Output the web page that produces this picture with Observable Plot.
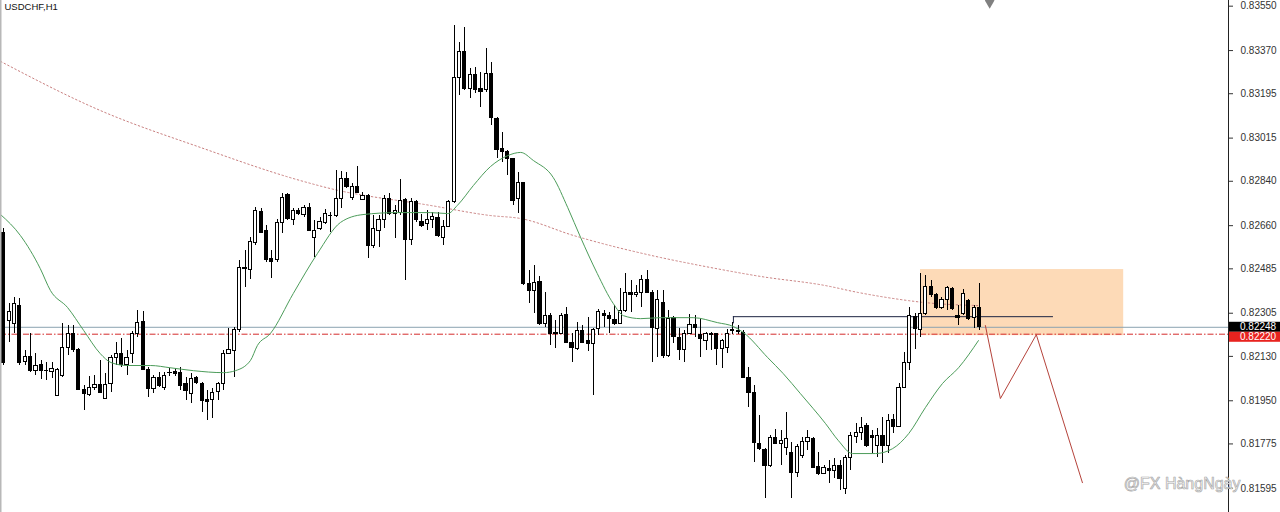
<!DOCTYPE html>
<html>
<head>
<meta charset="utf-8">
<script src="https://cdn.jsdelivr.net/npm/d3@7"></script>
<script src="https://cdn.jsdelivr.net/npm/@observablehq/plot@0.6"></script>
<style>
html,body{margin:0;padding:0;background:#fff;overflow:hidden;}
#chart svg{display:block;}
</style>
</head>
<body>
<div id="chart"></div>
<script>
const symbolTitle = "USDCHF,H1";
const watermark = "@FX HàngNgày";

const opens = [
0.82632,0.82275,0.82263,0.82336,0.82109,0.82129,0.82072,0.82097,0.82072,0.82068,
0.81971,0.82052,0.82166,0.82222,0.82157,0.81995,0.81975,0.82003,0.82016,0.81959,
0.82020,0.82125,0.82141,0.82097,0.82141,0.82222,0.82271,0.82076,0.81999,0.82044,
0.82003,0.82064,0.82068,0.82064,0.82020,0.81979,0.82044,0.82020,0.81955,0.81955,
0.81987,0.82020,0.82141,0.82153,0.82235,0.82490,0.82482,0.82591,0.82717,0.82640,
0.82523,0.82519,0.82669,0.82786,0.82685,0.82721,0.82705,0.82733,0.82612,0.82648,
0.82669,0.82701,0.82701,0.82770,0.82851,0.82774,0.82815,0.82766,0.82782,0.82579,
0.82640,0.82681,0.82770,0.82709,0.82713,0.82766,0.82600,0.82754,0.82673,0.82665,
0.82681,0.82693,0.82612,0.82656,0.82754,0.83257,0.83366,0.83216,0.83269,0.83216,
0.83212,0.83277,0.83094,0.82969,0.82957,0.82932,0.82770,0.82835,0.82425,0.82397,
0.82433,0.82263,0.82295,0.82226,0.82222,0.82299,0.82186,0.82161,0.82231,0.82194,
0.82182,0.82243,0.82303,0.82295,0.82279,0.82263,0.82316,0.82385,0.82377,0.82385,
0.82441,0.82389,0.82243,0.82348,0.82133,0.82287,0.82206,0.82157,0.82222,0.82259,
0.82218,0.82194,0.82222,0.82222,0.82161,0.82166,0.82235,0.82231,0.82226,0.82044,
0.81983,0.81776,0.81752,0.81687,0.81801,0.81776,0.81760,0.81740,0.81659,0.81728,
0.81784,0.81797,0.81683,0.81655,0.81675,0.81667,0.81687,0.81594,0.81719,0.81805,
0.81821,0.81849,0.81809,0.81768,0.81809,0.81768,0.81874,0.81845,0.82003,0.82105,
0.82291,0.82235,0.82303,0.82413,0.82377,0.82328,0.82360,0.82405,0.82295,0.82303,
0.82356,0.82287,0.82328];

const highs = [
0.82648,0.82344,0.82368,0.82364,0.82153,0.82222,0.82141,0.82113,0.82105,0.82105,
0.82080,0.82263,0.82255,0.82255,0.82161,0.82011,0.82048,0.82052,0.82113,0.82060,
0.82133,0.82186,0.82202,0.82153,0.82231,0.82316,0.82312,0.82084,0.82052,0.82064,
0.82064,0.82080,0.82080,0.82084,0.82044,0.82060,0.82048,0.82024,0.81991,0.81999,
0.82024,0.82153,0.82243,0.82247,0.82519,0.82559,0.82612,0.82733,0.82729,0.82660,
0.82559,0.82685,0.82790,0.82790,0.82729,0.82729,0.82742,0.82750,0.82681,0.82693,
0.82725,0.82713,0.82884,0.82880,0.82875,0.82831,0.82900,0.82794,0.82786,0.82701,
0.82701,0.82782,0.82790,0.82742,0.82847,0.82770,0.82770,0.82762,0.82705,0.82721,
0.82713,0.82713,0.82681,0.82762,0.83472,0.83403,0.83463,0.83297,0.83301,0.83281,
0.83378,0.83322,0.83098,0.83038,0.82965,0.82932,0.82875,0.82835,0.82478,0.82498,
0.82454,0.82389,0.82303,0.82275,0.82303,0.82328,0.82222,0.82267,0.82255,0.82287,
0.82243,0.82320,0.82316,0.82308,0.82336,0.82405,0.82466,0.82437,0.82417,0.82458,
0.82478,0.82397,0.82397,0.82397,0.82316,0.82291,0.82243,0.82235,0.82299,0.82295,
0.82283,0.82226,0.82226,0.82222,0.82198,0.82239,0.82267,0.82255,0.82235,0.82084,
0.82011,0.81890,0.81756,0.81809,0.81833,0.81829,0.81902,0.81780,0.81772,0.81801,
0.81829,0.81801,0.81740,0.81687,0.81707,0.81715,0.81707,0.81728,0.81821,0.81857,
0.81882,0.81857,0.81829,0.81837,0.81882,0.81894,0.81894,0.82020,0.82145,0.82328,
0.82303,0.82466,0.82458,0.82437,0.82385,0.82368,0.82413,0.82409,0.82336,0.82401,
0.82360,0.82336,0.82425];

const lows = [
0.82093,0.82186,0.82222,0.82093,0.82093,0.82064,0.82052,0.82036,0.82032,0.82040,
0.81967,0.82044,0.82133,0.82145,0.81991,0.81910,0.81967,0.81991,0.81979,0.81959,
0.81983,0.82093,0.82084,0.82052,0.82101,0.82206,0.82072,0.81963,0.81979,0.82003,
0.81991,0.82048,0.82048,0.81991,0.81951,0.81938,0.82016,0.81902,0.81870,0.81878,
0.81951,0.81991,0.82141,0.82044,0.82227,0.82409,0.82441,0.82579,0.82628,0.82510,
0.82445,0.82510,0.82628,0.82681,0.82660,0.82701,0.82693,0.82636,0.82531,0.82640,
0.82665,0.82632,0.82693,0.82729,0.82810,0.82762,0.82790,0.82762,0.82527,0.82567,
0.82571,0.82648,0.82701,0.82608,0.82701,0.82437,0.82579,0.82673,0.82652,0.82640,
0.82648,0.82612,0.82579,0.82652,0.82750,0.83188,0.83208,0.83176,0.83196,0.83139,
0.83200,0.83066,0.82932,0.82916,0.82863,0.82742,0.82709,0.82417,0.82344,0.82304,
0.82255,0.82247,0.82174,0.82161,0.82218,0.82182,0.82105,0.82153,0.82182,0.82149,
0.81971,0.82214,0.82247,0.82222,0.82255,0.82263,0.82308,0.82308,0.82368,0.82328,
0.82385,0.82105,0.82125,0.82121,0.82125,0.82182,0.82113,0.82105,0.82222,0.82206,
0.82125,0.82153,0.82153,0.82093,0.82080,0.82141,0.82218,0.82218,0.82040,0.81922,
0.81699,0.81748,0.81553,0.81679,0.81772,0.81687,0.81728,0.81553,0.81638,0.81715,
0.81748,0.81675,0.81646,0.81650,0.81614,0.81634,0.81586,0.81569,0.81667,0.81776,
0.81788,0.81760,0.81736,0.81719,0.81695,0.81736,0.81817,0.81841,0.81999,0.82072,
0.82157,0.82206,0.82295,0.82368,0.82320,0.82320,0.82316,0.82316,0.82255,0.82295,
0.82275,0.82243,0.82235];

const closes = [
0.82105,0.82308,0.82344,0.82105,0.82129,0.82072,0.82093,0.82072,0.82070,0.82080,
0.82076,0.82166,0.82222,0.82157,0.81995,0.81979,0.82003,0.82016,0.81983,0.82016,
0.82125,0.82141,0.82097,0.82125,0.82222,0.82267,0.82076,0.81999,0.82044,0.82011,
0.82052,0.82062,0.82060,0.82011,0.81991,0.82040,0.82024,0.81951,0.81947,0.81983,
0.82020,0.82141,0.82157,0.82235,0.82490,0.82486,0.82595,0.82721,0.82632,0.82519,
0.82514,0.82669,0.82774,0.82689,0.82721,0.82709,0.82733,0.82640,0.82640,0.82673,
0.82709,0.82699,0.82770,0.82851,0.82815,0.82815,0.82794,0.82782,0.82579,0.82648,
0.82681,0.82770,0.82709,0.82721,0.82762,0.82600,0.82758,0.82681,0.82660,0.82685,
0.82697,0.82620,0.82656,0.82754,0.83257,0.83366,0.83216,0.83269,0.83212,0.83204,
0.83277,0.83098,0.82965,0.82957,0.82932,0.82762,0.82835,0.82425,0.82397,0.82429,
0.82263,0.82295,0.82222,0.82222,0.82295,0.82186,0.82166,0.82231,0.82186,0.82182,
0.82239,0.82308,0.82295,0.82283,0.82263,0.82312,0.82385,0.82377,0.82389,0.82441,
0.82389,0.82247,0.82360,0.82133,0.82283,0.82210,0.82157,0.82222,0.82259,0.82247,
0.82202,0.82222,0.82218,0.82161,0.82194,0.82222,0.82233,0.82229,0.82044,0.81983,
0.81780,0.81756,0.81687,0.81801,0.81776,0.81788,0.81797,0.81659,0.81764,0.81784,
0.81801,0.81679,0.81655,0.81679,0.81667,0.81687,0.81634,0.81719,0.81809,0.81821,
0.81841,0.81768,0.81801,0.81809,0.81768,0.81870,0.81845,0.82003,0.82105,0.82295,
0.82243,0.82303,0.82413,0.82377,0.82328,0.82360,0.82409,0.82324,0.82287,0.82381,
0.82283,0.82328,0.82248];

const yTicks = [0.83550,0.83370,0.83195,0.83015,0.82840,0.82660,0.82485,0.82305,0.82130,0.81950,0.81775,0.81595];
const bidPrice = 0.82248;
const levelPrice = 0.82220;

// moving averages: [bar index, price]
const greenMA = [[-0.6,0.82705],[3.1,0.82620],[6.8,0.82486],[8.7,0.82397],[11.9,0.82328],[14.9,0.82235],[18,0.82141],[20,0.82105],[23,0.82093],[27.4,0.82093],[31,0.82084],[35.4,0.82072],[41,0.82064],[43.2,0.82072],[46,0.82113],[47.3,0.82174],[49.7,0.82222],[54,0.82385],[58.5,0.82547],[62.8,0.82673],[67,0.82705],[73.4,0.82713],[79.6,0.82713],[82.8,0.82709],[84.6,0.82742],[87.6,0.82823],[90.8,0.82900],[94,0.82944],[96.4,0.82957],[98.8,0.82924],[102.5,0.82855],[105.2,0.82733],[107.6,0.82612],[110.7,0.82466],[113.7,0.82344],[115.6,0.82295],[118.8,0.82283],[122.5,0.82287],[128.6,0.82287],[133.1,0.82267],[136.1,0.82251],[138,0.82226],[142.5,0.82125],[145.4,0.82060],[148.6,0.81979],[153.3,0.81857],[155.7,0.81788],[158.3,0.81736],[162.6,0.81736],[165.8,0.81756],[168.8,0.81817],[171.9,0.81922],[175.1,0.82020],[178.1,0.82084],[181.8,0.82194]];
const redMA = [[-0.6,0.83326],[18,0.83127],[36.7,0.82977],[55.3,0.82843],[61,0.82810],[79.6,0.82742],[90.8,0.82701],[96.4,0.82689],[106.3,0.82620],[122.5,0.82531],[130,0.82498],[141.2,0.82454],[153.3,0.82417],[159.4,0.82389],[168.8,0.82356],[171.9,0.82348],[182,0.82336]];

const zone = {from: 171, to: 208.9, top: 0.82482, bottom: 0.82214};
const trendLine = {from: 136.1, to: 195.8, price: 0.82291, tickTo: 0.82262};
const projection = [[183.1,0.82255],[185.9,0.81959],[192.6,0.82218],[201.2,0.81618]];
const shiftMarker = 183.9;

const W = 1280, H = 512, axisW = 52;
const xDomain = [-0.616, 228.45];
const yDomain = [0.81497, 0.83573];

const candles = opens.map((o, i) => ({i, o, h: highs[i], l: lows[i], c: closes[i]}));
const bull = candles.filter(d => d.c >= d.o);
const bear = candles.filter(d => d.c < d.o);
const half = 0.3;

const chart = Plot.plot({
  width: W, height: H,
  marginLeft: 0, marginRight: axisW, marginTop: 0, marginBottom: 0,
  x: {domain: xDomain, axis: null},
  y: {domain: yDomain, axis: null},
  style: {background: "#fff", fontFamily: "'Liberation Sans', Arial, sans-serif", fontSize: "10px", color: "#333"},
  marks: [
    Plot.rect([zone], {x1: "from", x2: "to", y1: "bottom", y2: "top", fill: "#fddab7"}),
    Plot.ruleY([bidPrice], {stroke: "#8aa3b0", strokeWidth: 1}),
    Plot.ruleY([levelPrice], {stroke: "#d42a2a", strokeWidth: 1, strokeDasharray: "6,2,1.5,2"}),
    Plot.ruleY([trendLine], {y: "price", x1: "from", x2: "to", stroke: "#1c2442"}),
    Plot.ruleX([trendLine], {x: "from", y1: "price", y2: "tickTo", stroke: "#1c2442"}),
    Plot.line(redMA, {x: d => d[0], y: d => d[1], stroke: "#c98080", strokeWidth: 1, strokeDasharray: "1.5,2.5", curve: "monotone-x"}),
    Plot.ruleX(candles, {x: "i", y1: "l", y2: "h", stroke: "#000", shapeRendering: "crispEdges"}),
    Plot.rect(bull, {x1: d => d.i - half, x2: d => d.i + half, y1: "o", y2: "c", fill: "#fff", stroke: "#000", shapeRendering: "crispEdges"}),
    Plot.rect(bear, {x1: d => d.i - half, x2: d => d.i + half, y1: "o", y2: "c", fill: "#000", stroke: "#000", shapeRendering: "crispEdges"}),
    Plot.line(greenMA, {x: d => d[0], y: d => d[1], stroke: "#4c9c5a", strokeWidth: 1, curve: "monotone-x"}),
    Plot.line(projection, {x: d => d[0], y: d => d[1], stroke: "#b5433b", strokeWidth: 1}),
    Plot.ruleX([xDomain[0]], {stroke: "#b8b8b8", strokeWidth: 2}),
    Plot.ruleX([xDomain[1]], {stroke: "#222"}),
    Plot.axisY(yTicks, {anchor: "right", tickSize: 4, tickPadding: 8, tickFormat: d3.format(".5f"), fontSize: 10, color: "#333"}),
    Plot.dot([shiftMarker], {x: d => d, frameAnchor: "top", symbol: "diamond", r: 5, fill: "#808080", stroke: "none"}),
    Plot.text([symbolTitle], {frameAnchor: "top-left", dx: 4, dy: 3, textAnchor: "start", lineAnchor: "top", fontSize: 9.5, fill: "#111"}),
    Plot.text([watermark], {frameAnchor: "bottom-right", dx: 12, dy: -24, textAnchor: "end", lineAnchor: "bottom", fontSize: 16, fill: "#fff", stroke: "#a8a8a8", strokeWidth: 0.7, paintOrder: "fill"})
  ]
});

// price labels on the axis for bid and level lines
const ys = chart.scale("y"), xs = chart.scale("x");
const axisX = xs.range[1];
const g = d3.select(chart).append("g")
  .attr("font-family", "'Liberation Sans', Arial, sans-serif")
  .attr("font-size", 10)
  .attr("text-anchor", "start");
const bidY = ys.apply(bidPrice);
const labels = [
  {text: d3.format(".5f")(bidPrice), top: bidY - 5, fill: "#000"},
  {text: d3.format(".5f")(levelPrice), top: bidY + 5, fill: "#e8231f"}
];
labels.forEach(l => {
  g.append("rect").attr("x", axisX + 1).attr("y", l.top).attr("width", W - axisX - 1).attr("height", 10).attr("fill", l.fill);
  g.append("text").attr("x", axisX + 12).attr("y", l.top + 5).attr("dy", "0.36em").attr("fill", "#fff").attr("text-anchor", "start").text(l.text);
});

document.getElementById("chart").appendChild(chart);
</script>
</body>
</html>
